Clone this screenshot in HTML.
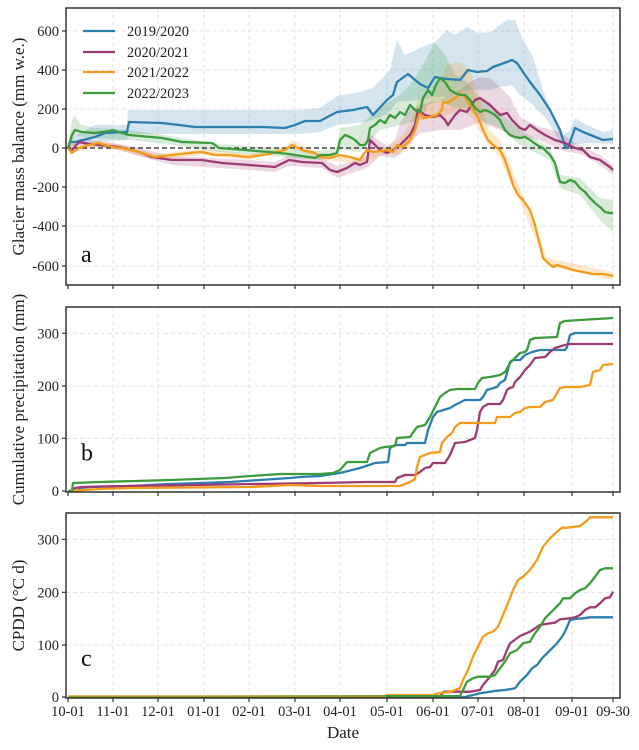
<!DOCTYPE html>
<html><head><meta charset="utf-8"><style>
html,body{margin:0;padding:0;background:#fff;}
svg{display:block;font-family:"Liberation Serif","DejaVu Serif",serif;}
.g{stroke:#dcdcdc;stroke-width:0.8;stroke-dasharray:4,3;fill:none;}
.fr{fill:none;stroke:#333;stroke-width:1.5;}
.tk{stroke:#333;stroke-width:1.2;}
.tl{font-size:14.5px;fill:#222;}
.yl{font-size:17px;fill:#222;}
.ln{fill:none;stroke-width:2.3;stroke-linejoin:round;}
.b{stroke:#2a7fae;} .p{stroke:#9d3b73;} .o{stroke:#f39b1c;} .gr{stroke:#3c9c3c;}
</style></head><body>
<svg width="639" height="750" viewBox="0 0 639 750">
<g class="g">
<path d="M113 8V285M158 8V285M204 8V285M249 8V285M295 8V285M340 8V285M387 8V285M433 8V285M478 8V285M524 8V285M572 8V285M613 8V285"/>
<path d="M113 307V492M158 307V492M204 307V492M249 307V492M295 307V492M340 307V492M387 307V492M433 307V492M478 307V492M524 307V492M572 307V492M613 307V492"/>
<path d="M113 513V698M158 513V698M204 513V698M249 513V698M295 513V698M340 513V698M387 513V698M433 513V698M478 513V698M524 513V698M572 513V698M613 513V698"/>
<path d="M66 31H620M66 70H620M66 109H620M66 187H620M66 226H620M66 266H620"/>
<path d="M66 333.3H620M66 386H620M66 438.3H620"/>
<path d="M66 539.3H620M66 592.3H620M66 645H620"/>
</g>

<polygon fill="#2a7fae" fill-opacity="0.2" points="68,148 72,138 95,125 127,125 128,110 300,110 320,108 337,96 360,92 373,88 390,70 397,40 405,55 420,48 435,42 447,30 455,35 467,27 477,33 490,32 507,20 515,20 523,40 533,57 543,90 553,117 562,137 570,130 575,118 587,125 603,132 613,130 613,144 587,143 573,145 567,149 560,142 547,120 533,105 520,95 512,85 500,87 490,90 467,90 447,97 433,97 420,100 397,102 387,114 367,122 337,125 320,132 300,134 128,134 127,140 95,142 72,146 68,148"/>
<polygon fill="#9d3b73" fill-opacity="0.2" points="68,146 79,139 119,144 139,148 172,156 249,160 275,162 289,155 322,158 337,166 367,156 370,134 387,146 395,140 400,123 410,110 420,105 440,100 460,90 470,82 480,77 490,78 500,87 510,97 520,117 540,127 560,132 575,143 600,155 613,165 613,175 600,165 583,155 560,150 540,140 520,138 500,130 480,122 460,130 440,130 420,133 405,148 395,158 380,156 367,168 337,178 322,168 289,166 275,172 249,170 172,165 139,156 119,150 79,145 68,150"/>
<polygon fill="#f39b1c" fill-opacity="0.22" points="68,146 79,145 99,140 122,145 155,154 202,149 249,154 285,147 292,140 320,154 360,157 387,147 397,141 400,138 410,125 418,100 430,95 440,82 447,65 460,62 470,70 480,100 490,130 500,140 510,165 520,188 540,240 547,258 613,272 613,280 547,266 540,250 520,202 510,182 500,158 490,148 480,132 470,115 460,110 440,118 420,120 410,148 400,155 387,154 360,163 320,160 292,148 249,160 202,155 155,160 122,151 99,146 79,151 68,150"/>
<polygon fill="#3c9c3c" fill-opacity="0.2" points="68,146 72,120 75,115 80,124 95,128 129,130 182,138 219,144 320,151 337,148 340,128 360,125 380,108 400,95 410,85 420,70 428,55 435,43 445,55 455,75 467,82 480,100 500,112 520,130 550,148 560,175 580,178 600,198 613,200 613,232 600,220 580,195 560,188 550,160 520,145 500,128 480,120 467,108 455,108 440,100 428,105 420,120 400,125 380,130 360,152 340,150 320,160 219,152 182,146 129,140 95,138 75,136 68,150"/>

<path d="M66 148H620" stroke="#222" stroke-width="1.2" stroke-dasharray="5,3" fill="none"/>

<polyline class="ln b" points="68,148 70,142 75,142 95,137 105,133 127,132 129,122 162,123 179,125 195,127 229,127 262,127 285,128 295,125 305,121 320,121 337,112 353,110 367,107 373,115 387,100 393,95 397,82 408,74 420,84 428,88 435,77 447,79 460,80 468,70 477,72 487,71 493,67 507,62 512,60 517,63 523,72 530,82 540,95 550,110 560,130 565,146 568,148 575,128 583,132 593,136 603,140 613,139"/>
<polyline class="ln p" points="68,148 72,150 79,142 89,144 99,145 119,147 139,152 152,157 172,160 202,160 222,163 249,165 275,167 289,160 302,162 322,163 330,170 337,172 347,168 355,163 360,165 367,162 370,140 375,145 380,150 387,153 393,150 400,145 405,140 410,135 415,125 418,110 425,115 433,117 440,115 445,120 448,125 455,115 460,110 467,112 475,100 480,98 490,105 500,115 507,113 512,120 520,128 525,130 530,125 537,130 545,135 555,140 565,143 575,148 583,150 590,157 600,160 610,167 613,170"/>
<polyline class="ln o" points="68,148 72,153 79,148 89,145 99,143 112,147 122,148 139,152 155,157 172,155 189,153 202,152 215,155 229,155 249,157 269,154 285,150 292,145 302,150 315,153 320,157 330,158 340,155 350,157 360,160 363,155 367,150 373,152 387,150 393,152 397,145 403,147 410,140 415,130 418,118 420,112 423,118 430,117 437,115 442,110 443,102 447,103 452,100 457,97 460,93 465,97 470,105 475,112 480,122 483,130 488,140 493,145 500,150 505,160 510,175 513,185 518,195 523,200 530,210 535,225 540,245 543,258 547,262 553,267 557,265 567,268 573,270 583,272 593,274 603,274 613,276"/>
<polyline class="ln gr" points="68,148 72,135 75,130 82,132 95,133 110,131 112,130 129,135 162,138 182,142 212,143 215,145 219,148 245,150 269,152 289,154 302,156 315,158 320,155 330,155 337,153 340,140 345,135 350,137 355,140 360,145 365,145 368,140 370,128 375,125 380,120 385,123 390,115 395,118 400,112 405,115 410,105 415,110 420,112 423,98 428,90 432,95 436,85 440,78 445,82 450,90 455,93 460,95 465,95 470,100 475,108 480,112 485,110 490,112 495,115 500,120 505,130 510,135 515,137 520,138 525,137 530,140 537,145 543,148 550,155 555,163 558,175 560,182 565,183 570,180 575,182 580,188 585,192 590,198 595,203 600,207 605,212 610,213 613,213"/>

<g stroke-width="2.2">
<line x1="83" y1="31" x2="115" y2="31" stroke="#2a7fae"/>
<line x1="83" y1="52" x2="115" y2="52" stroke="#9d3b73"/>
<line x1="83" y1="72" x2="115" y2="72" stroke="#f39b1c"/>
<line x1="83" y1="93" x2="115" y2="93" stroke="#3c9c3c"/>
</g>
<g class="tl">
<text x="127" y="36">2019/2020</text>
<text x="127" y="57">2020/2021</text>
<text x="127" y="77">2021/2022</text>
<text x="127" y="98">2022/2023</text>
</g>

<polyline class="ln b" points="68,491 78,491 80,488 90,487 130,486 170,484 230,482 260,480 290,478 300,477 320,476 340,473 360,468 375,463 388,462 390,448 395,445 405,445 407,443 425,443 428,430 433,417 437,412 450,408 455,405 465,400 480,400 483,397 487,390 497,387 500,383 505,380 507,373 510,362 513,360 520,360 525,355 532,352 540,350 565,350 567,347 570,335 575,333 613,333"/>
<polyline class="ln p" points="68,491 73,491 75,488 82,487 100,486.5 320,483 365,482 395,482 397,478 405,475 415,475 420,472 425,468 430,467 433,463 445,463 450,455 455,443 465,442 475,438 477,430 480,412 483,407 488,404 500,404 503,400 507,390 510,388 513,387 515,382 520,377 525,370 530,365 535,358 545,357 550,352 555,348 565,345 570,344 613,344"/>
<polyline class="ln o" points="68,491 100,489 130,488 250,487 290,485 320,486 400,486 405,484 410,482 415,479 417,467 420,457 425,455 430,453 440,452 442,443 447,437 452,433 455,427 460,423 495,423 497,417 510,417 515,413 520,412 525,408 530,407 540,407 545,402 553,400 557,393 560,388 565,387 580,387 590,385 593,372 600,370 603,365 613,364"/>
<polyline class="ln gr" points="68,491 72,491 73,483 100,482 170,480 225,478 250,476 280,474 320,474 333,473 340,470 347,462 367,462 370,453 380,448 385,447 395,446 397,438 410,437 417,427 425,425 430,417 435,407 440,397 445,393 450,390 457,389 475,389 478,383 482,378 490,377 500,375 505,372 510,363 515,358 520,353 525,352 527,350 530,340 535,338 557,337 560,323 565,321 580,320 613,318"/>

<polyline class="ln b" points="68,697 465,697 480,693.3 490,691.7 497,690.7 505,690 515,688.3 520,681.7 527,675 532,668.3 537,665 542,658.3 547,653.3 552,648.3 557,643.3 562,636.7 565,631.7 570,620 575,619 583,618.3 590,617.3 613,617.3"/>
<polyline class="ln p" points="68,697 440,696.5 444,691.7 470,691.7 480,690 483,685 490,676.7 495,670 498,661.7 503,660 507,650 510,643.3 520,636 530,631.7 540,625 550,623.3 555,622.7 560,619.3 570,618.3 575,617.3 580,615 585,610 590,607.3 595,607.3 600,603.3 605,598.3 610,597.3 613,591.7"/>
<polyline class="ln o" points="68,696.5 386,696.5 387,695 433,695 440,693 450,692 460,688 463,680 468,670 473,656.7 478,646.7 483,636.7 488,633.3 493,631.7 498,626.7 503,615 508,603.3 513,590 518,580 523,576.7 530,570 537,560 543,546.7 550,538.3 557,531.7 562,527.7 567,527.7 575,526.7 580,526 587,520.7 590,517.3 613,517.3"/>
<polyline class="ln gr" points="68,697 460,696 463,690 467,681.7 473,678.3 478,676.7 490,676.7 495,675 500,668.3 505,661.7 510,653.3 517,650 523,643.3 530,641.7 535,633.3 540,626.7 545,618.3 550,613.3 555,608.3 560,603.3 563,598.3 570,598.3 575,593.3 580,590 585,588.3 590,583.3 595,576.7 600,570 605,568.3 613,568.3"/>
<path d="M68 696.2H386" stroke="#f39b1c" stroke-opacity="0.6" stroke-width="1.6" fill="none"/>

<rect class="fr" x="66" y="8" width="554" height="277"/>
<rect class="fr" x="66" y="307" width="554" height="185"/>
<rect class="fr" x="66" y="513" width="554" height="185"/>

<g class="tk">
<path d="M68 285v4M113 285v4M158 285v4M204 285v4M249 285v4M295 285v4M340 285v4M387 285v4M433 285v4M478 285v4M524 285v4M572 285v4M613 285v4"/>
<path d="M68 492v4M113 492v4M158 492v4M204 492v4M249 492v4M295 492v4M340 492v4M387 492v4M433 492v4M478 492v4M524 492v4M572 492v4M613 492v4"/>
<path d="M68 698v4M113 698v4M158 698v4M204 698v4M249 698v4M295 698v4M340 698v4M387 698v4M433 698v4M478 698v4M524 698v4M572 698v4M613 698v4"/>
<path d="M62 31h4M62 70h4M62 109h4M62 148h4M62 187h4M62 226h4M62 266h4"/>
<path d="M62 333.3h4M62 386h4M62 438.3h4M62 491h4"/>
<path d="M62 539.3h4M62 592.3h4M62 645h4M62 697h4"/>
</g>

<g class="tl" text-anchor="end">
<text x="59" y="36">600</text>
<text x="59" y="75">400</text>
<text x="59" y="114">200</text>
<text x="59" y="153">0</text>
<text x="59" y="192">-200</text>
<text x="59" y="231">-400</text>
<text x="59" y="271">-600</text>
<text x="59" y="338.3">300</text>
<text x="59" y="391">200</text>
<text x="59" y="443.3">100</text>
<text x="59" y="496">0</text>
<text x="59" y="544.3">300</text>
<text x="59" y="597.3">200</text>
<text x="59" y="650">100</text>
<text x="59" y="702">0</text>
</g>
<g class="tl" text-anchor="middle">
<text x="68" y="716">10-01</text>
<text x="113" y="716">11-01</text>
<text x="158" y="716">12-01</text>
<text x="204" y="716">01-01</text>
<text x="249" y="716">02-01</text>
<text x="295" y="716">03-01</text>
<text x="340" y="716">04-01</text>
<text x="387" y="716">05-01</text>
<text x="433" y="716">06-01</text>
<text x="478" y="716">07-01</text>
<text x="524" y="716">08-01</text>
<text x="572" y="716">09-01</text>
<text x="613" y="716">09-30</text>
</g>

<text class="yl" x="343" y="738" text-anchor="middle">Date</text>
<text class="yl" text-anchor="middle" transform="translate(24,146.5) rotate(-90)">Glacier mass balance (mm w.e.)</text>
<text class="yl" text-anchor="middle" transform="translate(24,399.5) rotate(-90)">Cumulative precipitation (mm)</text>
<text class="yl" text-anchor="middle" transform="translate(24,605.5) rotate(-90)">CPDD (°C d)</text>

<g font-size="24" fill="#111">
<text x="81" y="262">a</text>
<text x="81" y="460.5">b</text>
<text x="81" y="666">c</text>
</g>
</svg>
</body></html>
